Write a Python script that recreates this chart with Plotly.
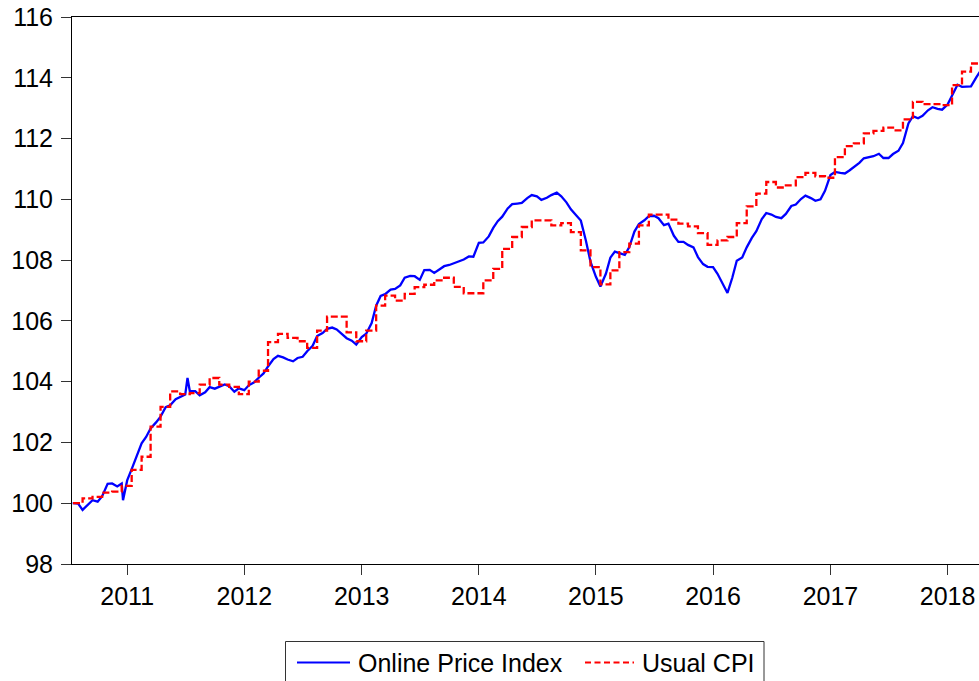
import pandas as pd
import plotly.graph_objects as go

# ---------------- data ----------------
# Online Price Index, semi-monthly readings (1st and 15th of each month), starting 2010-07-15
online_2010 = [100.0, 99.99, 99.78, 99.95, 100.10, 100.05, 100.23, 100.64, 100.65, 100.55, 100.65]
online_2011 = [100.75, 101.12, 101.6, 101.97, 102.18, 102.46, 102.66, 102.85, 103.16, 103.22, 103.42, 103.5,
               103.58, 103.70, 103.69, 103.55, 103.65, 103.82, 103.77, 103.83, 103.91, 103.85, 103.67, 103.78]
online_2012 = [103.72, 103.88, 103.98, 104.13, 104.27, 104.5, 104.74, 104.85, 104.8, 104.73, 104.67, 104.78,
               104.82, 105.0, 105.18, 105.5, 105.6, 105.74, 105.78, 105.72, 105.55, 105.43, 105.35, 105.22]
online_2013 = [105.47, 105.58, 105.93, 106.5, 106.82, 106.88, 107.03, 107.05, 107.17, 107.42, 107.48, 107.47,
               107.35, 107.67, 107.68, 107.58, 107.7, 107.8, 107.84, 107.9, 107.95, 108.02, 108.12, 108.11]
online_2014 = [108.57, 108.58, 108.78, 109.06, 109.28, 109.43, 109.7, 109.84, 109.86, 109.88, 110.04, 110.14,
               110.1, 109.98, 110.05, 110.14, 110.22, 110.1, 109.9, 109.67, 109.47, 109.3, 108.63, 107.95]
online_2015 = [107.45, 107.13, 107.55, 108.08, 108.28, 108.22, 108.17, 108.43, 108.94, 109.19, 109.31, 109.45,
               109.46, 109.38, 109.15, 109.2, 108.8, 108.6, 108.6, 108.5, 108.42, 108.1, 107.87, 107.78]
online_2016 = [107.77, 107.55, 107.2, 106.92, 107.42, 107.98, 108.09, 108.42, 108.73, 108.95, 109.35, 109.55,
               109.5, 109.42, 109.38, 109.52, 109.78, 109.83, 110.01, 110.12, 110.04, 109.95, 110.0, 110.28]
online_2017 = [110.8, 110.9, 110.87, 110.85, 110.95, 111.06, 111.2, 111.35, 111.39, 111.42, 111.5, 111.36,
               111.36, 111.49, 111.6, 111.85, 112.5, 112.74, 112.67, 112.75, 112.93, 113.03, 112.98, 112.95]
online_2018 = [113.12, 113.42, 113.77, 113.7, 113.72, 113.72, 114.02, 114.25]

# short-lived spikes in the online index
online_extra_dates = ["2010-12-19", "2011-07-08"]
online_extra_values = [100.1, 104.12]

# Usual CPI, monthly (value holds from the 15th of each month), starting 2010-06
cpi_2010 = [100.0, 100.0, 100.16, 100.21, 100.35, 100.38, 100.57]
cpi_2011 = [101.1, 101.53, 102.52, 103.17, 103.68, 103.59, 103.62, 103.9, 104.12, 103.9, 103.83, 103.59]
cpi_2012 = [104.0, 104.36, 105.3, 105.57, 105.44, 105.33, 105.11, 105.68, 106.14, 106.14, 105.62, 105.33]
cpi_2013 = [105.68, 106.5, 106.83, 106.67, 106.89, 107.11, 107.19, 107.33, 107.42, 107.12, 106.91, 106.91]
cpi_2014 = [107.33, 107.71, 108.37, 108.76, 109.09, 109.31, 109.31, 109.14, 109.22, 108.92, 108.32, 107.77]
cpi_2015 = [107.2, 107.66, 108.26, 108.54, 109.14, 109.5, 109.5, 109.33, 109.2, 109.11, 108.89, 108.5]
cpi_2016 = [108.65, 108.76, 109.22, 109.77, 110.19, 110.57, 110.39, 110.46, 110.73, 110.87, 110.76, 110.71]
cpi_2017 = [111.39, 111.75, 111.84, 112.17, 112.25, 112.36, 112.27, 112.63, 113.21, 113.13, 113.13, 113.10]
cpi_2018 = [113.76, 114.2, 114.47, 114.47]

year_ticks = ["2011", "2012", "2013", "2014", "2015", "2016", "2017", "2018"]
y_ticks = [98, 100, 102, 104, 106, 108, 110, 112, 114, 116]

# ---------------- build series ----------------
online_vals = (online_2010 + online_2011 + online_2012 + online_2013 + online_2014 +
               online_2015 + online_2016 + online_2017 + online_2018)
online_dates = pd.date_range("2010-07-15", periods=len(online_vals), freq="SMS")
online = pd.Series(online_vals, index=online_dates)
extra = pd.Series(online_extra_values, index=pd.to_datetime(online_extra_dates))
online = pd.concat([online, extra]).sort_index()

cpi_vals = (cpi_2010 + cpi_2011 + cpi_2012 + cpi_2013 + cpi_2014 +
            cpi_2015 + cpi_2016 + cpi_2017 + cpi_2018)
cpi_dates = pd.date_range("2010-06-01", periods=len(cpi_vals), freq="MS") + pd.Timedelta(days=14)

FONT = "Liberation Sans, Arial, sans-serif"
TICK_SIZE = 25
LEG_SIZE = 25

fig = go.Figure()
fig.add_trace(go.Scatter(x=online.index, y=online.values, mode="lines", name="Online Price Index",
                         line=dict(color="#0000FF", width=2.3), showlegend=False))
fig.add_trace(go.Scatter(x=cpi_dates, y=cpi_vals, mode="lines", name="Usual CPI",
                         line=dict(color="#FF0000", width=2.3, dash="7px,3px", shape="hv"),
                         showlegend=False))

fig.update_layout(
    width=979, height=681,
    margin=dict(l=72, r=0, t=17, b=117),
    paper_bgcolor="white", plot_bgcolor="white",
    font=dict(family=FONT, size=TICK_SIZE, color="black"),
    xaxis=dict(type="date", range=["2010-07-13", "2018-04-09"],
               tickvals=[f"{y}-01-01" for y in year_ticks], ticktext=year_ticks,
               showgrid=False, zeroline=False, showline=True, linecolor="black", linewidth=1,
               mirror=True, ticks="outside", ticklen=10, tickcolor="#333333", tickwidth=1,
               tickfont=dict(family=FONT, size=TICK_SIZE, color="black")),
    yaxis=dict(range=[98, 116], tickvals=y_ticks,
               showgrid=False, zeroline=False, showline=True, linecolor="black", linewidth=1,
               ticks="outside", ticklen=10, tickcolor="#333333", tickwidth=1,
               ticklabelstandoff=3,
               tickfont=dict(family=FONT, size=TICK_SIZE, color="black")),
)

# ---------------- legend (drawn manually for long line samples) ----------------
# helpers convert page pixels to paper coordinates (plot area spans x 72..979, y 17..564)
def px_x(px):
    return (px - 72) / 907.0

def px_y(py):
    return (564 - py) / 547.0

fig.add_shape(type="rect", xref="paper", yref="paper",
              x0=px_x(285.5), x1=px_x(764), y0=px_y(720), y1=px_y(641.5),
              line=dict(color="#333333", width=1), fillcolor="white")
fig.add_shape(type="line", xref="paper", yref="paper",
              x0=px_x(297), x1=px_x(350), y0=px_y(662.5), y1=px_y(662.5),
              line=dict(color="#0000FF", width=2))
fig.add_shape(type="line", xref="paper", yref="paper",
              x0=px_x(585), x1=px_x(634), y0=px_y(662.5), y1=px_y(662.5),
              line=dict(color="#FF0000", width=2, dash="6px,3.5px"))
fig.add_annotation(xref="paper", yref="paper", x=px_x(356), y=px_y(662.5),
                   xanchor="left", yanchor="middle", showarrow=False,
                   text="Online Price Index", font=dict(family=FONT, size=LEG_SIZE, color="black"))
fig.add_annotation(xref="paper", yref="paper", x=px_x(640), y=px_y(662.5),
                   xanchor="left", yanchor="middle", showarrow=False,
                   text="Usual CPI", font=dict(family=FONT, size=LEG_SIZE, color="black"))

# remove the default page margin so the figure sits at the window's top-left corner
fig.write_html("out.html",
               config={"displayModeBar": False},
               post_script="document.body.style.margin='0';document.body.style.overflow='hidden';")
